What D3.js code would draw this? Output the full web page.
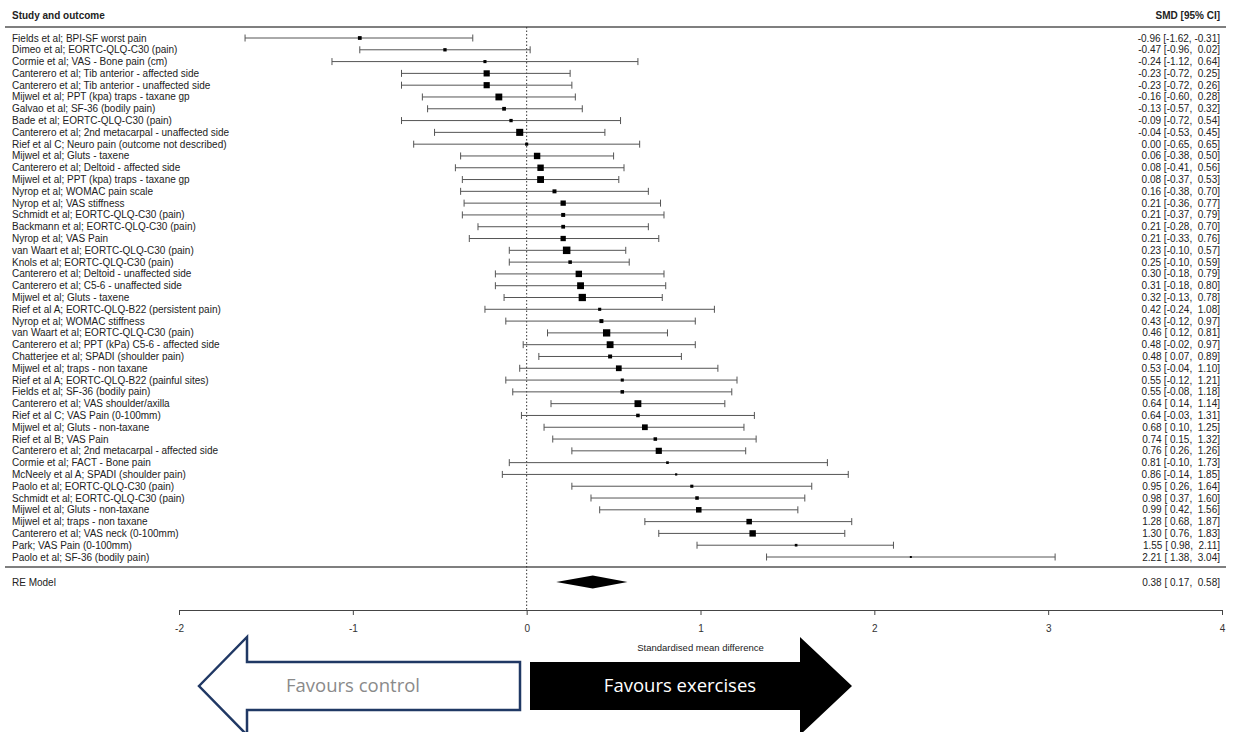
<!DOCTYPE html>
<html>
<head>
<meta charset="utf-8">
<script src="https://cdn.jsdelivr.net/npm/d3@7"></script>
<style>
  body { margin: 0; background: #fff; }
  svg { display: block; }
  text { font-family: "Liberation Sans", Arial, sans-serif; }
</style>
</head>
<body>
<script>
// study labels, top to bottom
var labels = [
  "Fields et al; BPI-SF worst pain",
  "Dimeo et al; EORTC-QLQ-C30 (pain)",
  "Cormie et al; VAS - Bone pain (cm)",
  "Canterero et al; Tib anterior - affected side",
  "Canterero et al; Tib anterior - unaffected side",
  "Mijwel et al; PPT (kpa) traps - taxane gp",
  "Galvao et al; SF-36 (bodily pain)",
  "Bade et al; EORTC-QLQ-C30 (pain)",
  "Canterero et al; 2nd metacarpal - unaffected side",
  "Rief et al C; Neuro pain (outcome not described)",
  "Mijwel et al; Gluts - taxene",
  "Canterero et al; Deltoid - affected side",
  "Mijwel et al; PPT (kpa) traps - taxane gp",
  "Nyrop et al; WOMAC pain scale",
  "Nyrop et al; VAS stiffness",
  "Schmidt et al; EORTC-QLQ-C30 (pain)",
  "Backmann et al; EORTC-QLQ-C30 (pain)",
  "Nyrop et al; VAS Pain",
  "van Waart et al; EORTC-QLQ-C30 (pain)",
  "Knols et al; EORTC-QLQ-C30 (pain)",
  "Canterero et al; Deltoid - unaffected side",
  "Canterero et al; C5-6 - unaffected side",
  "Mijwel et al; Gluts - taxene",
  "Rief et al A; EORTC-QLQ-B22 (persistent pain)",
  "Nyrop et al; WOMAC stiffness",
  "van Waart et al; EORTC-QLQ-C30 (pain)",
  "Canterero et al; PPT (kPa) C5-6 - affected side",
  "Chatterjee et al; SPADI (shoulder pain)",
  "Mijwel et al; traps - non taxane",
  "Rief et al A; EORTC-QLQ-B22 (painful sites)",
  "Fields et al; SF-36 (bodily pain)",
  "Canterero et al; VAS shoulder/axilla",
  "Rief et al C; VAS Pain (0-100mm)",
  "Mijwel et al; Gluts - non-taxane",
  "Rief et al B; VAS Pain",
  "Canterero et al; 2nd metacarpal - affected side",
  "Cormie et al; FACT - Bone pain",
  "McNeely et al A; SPADI (shoulder pain)",
  "Paolo et al; EORTC-QLQ-C30 (pain)",
  "Schmidt et al; EORTC-QLQ-C30 (pain)",
  "Mijwel et al; Gluts - non-taxane",
  "Mijwel et al; traps - non taxane",
  "Canterero et al; VAS neck (0-100mm)",
  "Park; VAS Pain (0-100mm)",
  "Paolo et al; SF-36 (bodily pain)"
];

var smd = [-0.96, -0.47, -0.24, -0.23, -0.23, -0.16, -0.13, -0.09, -0.04, 0.00,
  0.06, 0.08, 0.08, 0.16, 0.21, 0.21, 0.21, 0.21, 0.23, 0.25,
  0.30, 0.31, 0.32, 0.42, 0.43, 0.46, 0.48, 0.48, 0.53, 0.55,
  0.55, 0.64, 0.64, 0.68, 0.74, 0.76, 0.81, 0.86, 0.95, 0.98,
  0.99, 1.28, 1.30, 1.55, 2.21];

var lower = [-1.62, -0.96, -1.12, -0.72, -0.72, -0.60, -0.57, -0.72, -0.53, -0.65,
  -0.38, -0.41, -0.37, -0.38, -0.36, -0.37, -0.28, -0.33, -0.10, -0.10,
  -0.18, -0.18, -0.13, -0.24, -0.12, 0.12, -0.02, 0.07, -0.04, -0.12,
  -0.08, 0.14, -0.03, 0.10, 0.15, 0.26, -0.10, -0.14, 0.26, 0.37,
  0.42, 0.68, 0.76, 0.98, 1.38];

var upper = [-0.31, 0.02, 0.64, 0.25, 0.26, 0.28, 0.32, 0.54, 0.45, 0.65,
  0.50, 0.56, 0.53, 0.70, 0.77, 0.79, 0.70, 0.76, 0.57, 0.59,
  0.79, 0.80, 0.78, 1.08, 0.97, 0.81, 0.97, 0.89, 1.10, 1.21,
  1.18, 1.14, 1.31, 1.25, 1.32, 1.26, 1.73, 1.85, 1.64, 1.60,
  1.56, 1.87, 1.83, 2.11, 3.04];

// relative study weights (%)
var weights = [1.8, 1.6, 1.5, 2.9, 2.9, 3.2, 1.8, 1.6, 3.3, 1.5,
  3.0, 3.0, 3.2, 1.9, 2.5, 1.9, 1.8, 2.5, 3.5, 1.7,
  3.0, 3.2, 3.4, 1.5, 1.9, 3.4, 3.2, 1.9, 2.7, 1.5,
  1.7, 3.2, 1.7, 2.7, 1.7, 2.9, 1.3, 1.1, 1.5, 1.7,
  2.6, 2.6, 3.0, 1.3, 1.0];

var reLabel = "RE Model";
var reEst = [0.38, 0.17, 0.58];

var axisTicks = [-2, -1, 0, 1, 2, 3, 4];
var axisTitle = "Standardised mean difference";
var headLeft = "Study and outcome";
var headRight = "SMD [95% CI]";
var arrowLabels = ["Favours control", "Favours exercises"];

var W = 1237, H = 732;
var svg = d3.select("body").append("svg").attr("width", W).attr("height", H);

var x = d3.scaleLinear().domain([-2, 4]).range([179, 1222]);
var y = d3.scalePoint().domain(d3.range(labels.length)).range([38, 557]);
var box = d3.scaleLinear().domain(d3.extent(weights)).range([2, 7.5]);

var fmt = function (v) {
  var s = v.toFixed(2);
  if (v >= 0) s = " " + s;
  return s;
};
var ciText = function (e, l, u) {
  return fmt(e) + " [" + fmt(l) + ", " + fmt(u) + "]";
};

var rows = labels.map(function (d, i) {
  return {i: i, label: d, est: smd[i], lo: lower[i], hi: upper[i], w: weights[i]};
});

var textCol = "#222";
var lineCol = "#555";
var topLine = 27, botLine = 567, axisY = 610, reY = 582;

// header
svg.append("text").attr("x", 12).attr("y", 19)
  .attr("font-size", 10).attr("font-weight", "bold").attr("fill", textCol).text(headLeft);
svg.append("text").attr("x", 1220).attr("y", 19).attr("text-anchor", "end")
  .attr("font-size", 10).attr("font-weight", "bold").attr("fill", textCol).text(headRight);

// separator lines
svg.selectAll("line.sep").data([topLine, botLine]).enter().append("line")
  .attr("class", "sep")
  .attr("x1", 5).attr("x2", 1226)
  .attr("y1", function (d) { return d; }).attr("y2", function (d) { return d; })
  .attr("stroke", lineCol).attr("stroke-width", 1.3);

// zero reference line
svg.append("line")
  .attr("x1", x(0)).attr("x2", x(0))
  .attr("y1", topLine).attr("y2", axisY)
  .attr("stroke", "#333").attr("stroke-width", 1)
  .attr("stroke-dasharray", "1.5,2");

// study rows
var g = svg.selectAll("g.row").data(rows).enter().append("g")
  .attr("class", "row")
  .attr("transform", function (d) { return "translate(0," + y(d.i) + ")"; });

g.append("text").attr("x", 12).attr("dy", "0.35em")
  .attr("font-size", 10).attr("fill", textCol)
  .text(function (d) { return d.label; });

g.append("text").attr("x", 1220).attr("dy", "0.35em").attr("text-anchor", "end")
  .attr("font-size", 10).attr("fill", textCol)
  .style("white-space", "pre")
  .text(function (d) { return ciText(d.est, d.lo, d.hi); });

g.append("line")
  .attr("x1", function (d) { return x(d.lo); })
  .attr("x2", function (d) { return x(d.hi); })
  .attr("stroke", lineCol).attr("stroke-width", 1);

g.selectAll("line.cap")
  .data(function (d) { return [d.lo, d.hi]; })
  .enter().append("line").attr("class", "cap")
  .attr("x1", function (v) { return x(v); }).attr("x2", function (v) { return x(v); })
  .attr("y1", -3.5).attr("y2", 3.5)
  .attr("stroke", lineCol).attr("stroke-width", 1);

g.append("rect")
  .attr("x", function (d) { return x(d.est) - box(d.w) / 2; })
  .attr("y", function (d) { return -box(d.w) / 2; })
  .attr("width", function (d) { return box(d.w); })
  .attr("height", function (d) { return box(d.w); })
  .attr("fill", "#000");

// summary
svg.append("text").attr("x", 12).attr("y", reY).attr("dy", "0.35em")
  .attr("font-size", 10).attr("fill", textCol).text(reLabel);
svg.append("text").attr("x", 1220).attr("y", reY).attr("dy", "0.35em")
  .attr("text-anchor", "end").attr("font-size", 10).attr("fill", textCol)
  .style("white-space", "pre")
  .text(ciText(reEst[0], reEst[1], reEst[2]));
svg.append("path")
  .attr("d", d3.line()([
    [x(reEst[1]), reY], [x(reEst[0]), reY - 6.5],
    [x(reEst[2]), reY], [x(reEst[0]), reY + 6.5]
  ]) + "Z")
  .attr("fill", "#000");

// axis
var axis = svg.append("g")
  .attr("transform", "translate(0," + axisY + ")")
  .call(d3.axisBottom(x).tickValues(axisTicks).tickFormat(function (d) { return String(d); })
    .tickSize(5).tickSizeOuter(0).tickPadding(10));
axis.selectAll("path, line").attr("stroke", "#444");
axis.selectAll("text").attr("font-size", 10).attr("fill", "#333")
  .attr("font-family", "Liberation Sans, Arial, sans-serif");

svg.append("text").attr("x", x(1)).attr("y", 648).attr("dy", "0.35em")
  .attr("text-anchor", "middle").attr("font-size", 9.5).attr("fill", "#222")
  .text(axisTitle);

// favour arrows
var arrowL = [[199, 686], [247, 637], [247, 662], [520, 662], [520, 710], [247, 710], [247, 735]];
var arrowR = [[530, 662], [800, 662], [800, 637], [852, 686], [800, 735], [800, 710], [530, 710]];

svg.append("path").attr("d", d3.line()(arrowL) + "Z")
  .attr("fill", "#fff").attr("stroke", "#203864").attr("stroke-width", 2.5)
  .attr("stroke-linejoin", "miter");
svg.append("path").attr("d", d3.line()(arrowR) + "Z")
  .attr("fill", "#000");

svg.append("text").attr("x", 353).attr("y", 686).attr("dy", "0.35em")
  .attr("text-anchor", "middle").attr("font-size", 18.5).attr("fill", "#8a8a8a")
  .style("font-family", "'Open Sans', sans-serif")
  .text(arrowLabels[0]);
svg.append("text").attr("x", 680).attr("y", 686).attr("dy", "0.35em")
  .attr("text-anchor", "middle").attr("font-size", 18.5).attr("fill", "#fff")
  .style("font-family", "'Open Sans', sans-serif")
  .text(arrowLabels[1]);
</script>
</body>
</html>
